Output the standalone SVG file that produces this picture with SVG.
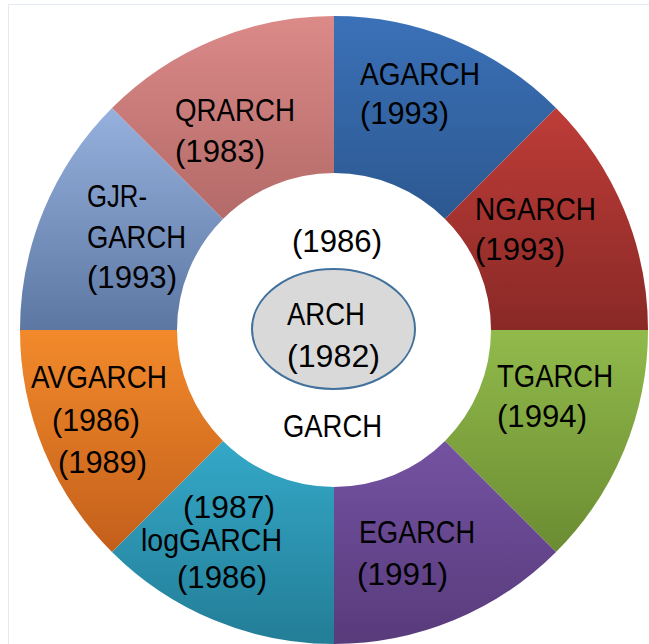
<svg xmlns="http://www.w3.org/2000/svg" width="649" height="644" viewBox="0 0 649 644">
<defs>
<style>
.t{font-family:"Liberation Sans",Arial,sans-serif;font-size:31px;fill:#000;}
.seg{stroke:none;}
</style>
<linearGradient id="gA" x1="0" y1="0" x2="0" y2="1"><stop offset="0" stop-color="#3b71b8"/><stop offset="1" stop-color="#2c5890"/></linearGradient>
<linearGradient id="gN" x1="0" y1="0" x2="0" y2="1"><stop offset="0" stop-color="#be3c38"/><stop offset="1" stop-color="#892926"/></linearGradient>
<linearGradient id="gT" x1="0" y1="0" x2="0" y2="1"><stop offset="0" stop-color="#91ba4b"/><stop offset="1" stop-color="#6b8c32"/></linearGradient>
<linearGradient id="gE" x1="0" y1="0" x2="0" y2="1"><stop offset="0" stop-color="#7452a2"/><stop offset="1" stop-color="#583b7b"/></linearGradient>
<linearGradient id="gL" x1="0" y1="0" x2="0" y2="1"><stop offset="0" stop-color="#34a8c8"/><stop offset="1" stop-color="#237d96"/></linearGradient>
<linearGradient id="gV" x1="0" y1="0" x2="0" y2="1"><stop offset="0" stop-color="#f28a2b"/><stop offset="1" stop-color="#c35f1b"/></linearGradient>
<linearGradient id="gG" x1="0" y1="0" x2="0" y2="1"><stop offset="0" stop-color="#97b1de"/><stop offset="1" stop-color="#5d77a3"/></linearGradient>
<linearGradient id="gQ" x1="0" y1="0" x2="0" y2="1"><stop offset="0" stop-color="#db8a88"/><stop offset="1" stop-color="#b36a68"/></linearGradient>
</defs>
<rect x="0" y="0" width="649" height="644" fill="#ffffff"/>
<rect x="8.5" y="4.5" width="700" height="700" fill="none" stroke="#e2e9f2" stroke-width="1"/>
<g id="connectors"></g>
<g id="AGARCH">
<path class="seg" fill="url(#gA)" d="M334,16 A314,314 0 0 1 556.03,107.97 L445.01,218.99 A157,157 0 0 0 334,173 Z"/>
<text class="t" x="360" y="85" textLength="120" lengthAdjust="spacingAndGlyphs">AGARCH</text>
<text class="t" x="360" y="124" textLength="89" lengthAdjust="spacingAndGlyphs">(1993)</text>
</g>
<g id="NGARCH">
<path class="seg" fill="url(#gN)" d="M556.03,107.97 A314,314 0 0 1 648,330 L491,330 A157,157 0 0 0 445.01,218.99 Z"/>
<text class="t" x="475" y="220" textLength="121" lengthAdjust="spacingAndGlyphs">NGARCH</text>
<text class="t" x="475" y="260" textLength="90" lengthAdjust="spacingAndGlyphs">(1993)</text>
</g>
<g id="TGARCH">
<path class="seg" fill="url(#gT)" d="M648,330 A314,314 0 0 1 556.03,552.03 L445.01,440.99 A157,157 0 0 0 491,330 Z"/>
<text class="t" x="497" y="387" textLength="116" lengthAdjust="spacingAndGlyphs">TGARCH</text>
<text class="t" x="497" y="427" textLength="90" lengthAdjust="spacingAndGlyphs">(1994)</text>
</g>
<g id="EGARCH">
<path class="seg" fill="url(#gE)" d="M556.03,552.03 A314,314 0 0 1 334,644 L334,487 A157,157 0 0 0 445.01,440.99 Z"/>
<text class="t" x="359" y="543" textLength="116" lengthAdjust="spacingAndGlyphs">EGARCH</text>
<text class="t" x="357" y="585" textLength="91" lengthAdjust="spacingAndGlyphs">(1991)</text>
</g>
<g id="logGARCH">
<path class="seg" fill="url(#gL)" d="M334,644 A314,314 0 0 1 111.97,552.03 L222.99,440.99 A157,157 0 0 0 334,487 Z"/>
<text class="t" x="183" y="518" font-size="30" textLength="92" lengthAdjust="spacingAndGlyphs">(1987)</text>
<text class="t" x="141" y="551" textLength="141" lengthAdjust="spacingAndGlyphs">logGARCH</text>
<text class="t" x="177" y="588" textLength="90" lengthAdjust="spacingAndGlyphs">(1986)</text>
</g>
<g id="AVGARCH">
<path class="seg" fill="url(#gV)" d="M111.97,552.03 A314,314 0 0 1 20,330 L177,330 A157,157 0 0 0 222.99,440.99 Z"/>
<text class="t" x="31" y="388" textLength="136" lengthAdjust="spacingAndGlyphs">AVGARCH</text>
<text class="t" x="52" y="431" textLength="88" lengthAdjust="spacingAndGlyphs">(1986)</text>
<text class="t" x="58" y="473" textLength="89" lengthAdjust="spacingAndGlyphs">(1989)</text>
</g>
<g id="GJR-GARCH">
<path class="seg" fill="url(#gG)" d="M20,330 A314,314 0 0 1 111.97,107.97 L222.99,218.99 A157,157 0 0 0 177,330 Z"/>
<text class="t" x="87" y="207" textLength="60" lengthAdjust="spacingAndGlyphs">GJR-</text>
<text class="t" x="87" y="248" textLength="99" lengthAdjust="spacingAndGlyphs">GARCH</text>
<text class="t" x="87" y="288" textLength="90" lengthAdjust="spacingAndGlyphs">(1993)</text>
</g>
<g id="QRARCH">
<path class="seg" fill="url(#gQ)" d="M111.97,107.97 A314,314 0 0 1 334,16 L334,173 A157,157 0 0 0 222.99,218.99 Z"/>
<text class="t" x="175" y="121" textLength="120" lengthAdjust="spacingAndGlyphs">QRARCH</text>
<text class="t" x="175" y="162" textLength="90" lengthAdjust="spacingAndGlyphs">(1983)</text>
</g>
<g id="GARCH">
<text class="t" x="292" y="252" textLength="90" lengthAdjust="spacingAndGlyphs">(1986)</text>
<text class="t" x="283" y="437" textLength="99" lengthAdjust="spacingAndGlyphs">GARCH</text>
</g>
<g id="ARCH">
<ellipse cx="333.5" cy="329" rx="81.5" ry="60" fill="#d9d9d9" stroke="#41719c" stroke-width="2"/>
<text class="t" x="287" y="325" textLength="78" lengthAdjust="spacingAndGlyphs">ARCH</text>
<text class="t" x="287" y="367" textLength="93" lengthAdjust="spacingAndGlyphs">(1982)</text>
</g>
</svg>
